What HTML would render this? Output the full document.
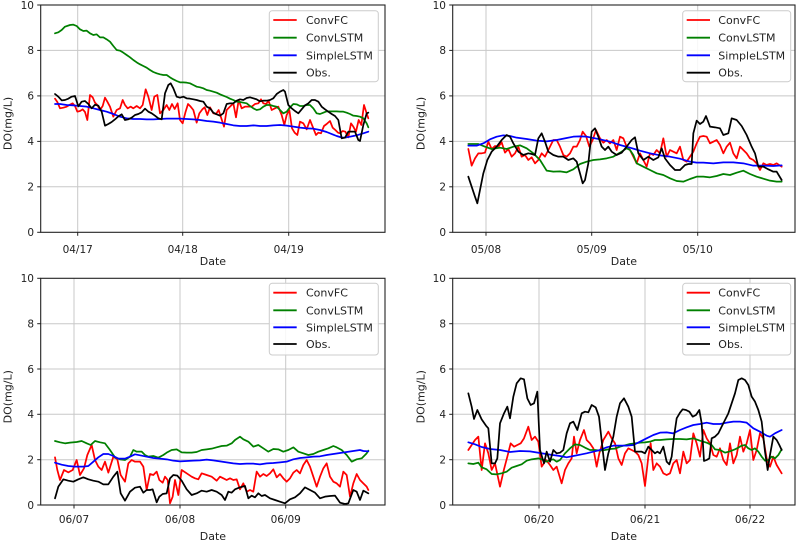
<!DOCTYPE html>
<html><head><meta charset="utf-8"><style>
html,body{margin:0;padding:0;background:#fff;}
svg{display:block;}
text{font-family:"DejaVu Sans","Liberation Sans",sans-serif;fill:#222;}
.tk{font-size:10.5px;}
.lb{font-size:11px;}
.lg{font-size:11px;}
.grid line{stroke:#c8c8c8;stroke-width:1;}
.sp{fill:none;stroke:#222;stroke-width:1.1;}
.d polyline{fill:none;stroke-width:5.2;stroke-linejoin:round;stroke-linecap:round;}
.r{stroke:#ff0000;} .g{stroke:#008000;} .b{stroke:#0000ff;} .k{stroke:#000;}
.leg rect{fill:#fff;fill-opacity:0.85;stroke:#cccccc;stroke-width:1;}
.leg line{stroke-width:1.8;}
</style></head><body>
<svg width="800" height="541" viewBox="0 0 800 541" xmlns="http://www.w3.org/2000/svg">

<!-- ============ TOP LEFT ============ -->
<g class="grid">
<line x1="40.7" x2="385" y1="186.8" y2="186.8"/><line x1="40.7" x2="385" y1="141.4" y2="141.4"/>
<line x1="40.7" x2="385" y1="95.9" y2="95.9"/><line x1="40.7" x2="385" y1="50.4" y2="50.4"/>
<line x1="77.7" x2="77.7" y1="5" y2="232.3"/><line x1="182.7" x2="182.7" y1="5" y2="232.3"/><line x1="288.7" x2="288.7" y1="5" y2="232.3"/>
</g>
<g class="d" transform="scale(0.333333)">
<polyline class="r" points="165,296 172,306 180,325 190,323 200,320 210,314 218,310 225,318 232,335 240,333 248,328 255,336 262,360 270,285 278,292 285,308 292,315 300,330 308,318 315,293 322,305 330,320 340,350 350,330 360,325 368,300 375,315 383,325 392,320 400,325 410,318 420,325 428,315 437,268 445,290 455,330 463,290 472,285 480,340 490,330 500,315 508,330 516,312 524,327 533,310 540,360 548,370 556,338 564,312 572,320 580,330 590,368 598,340 607,328 614,322 622,345 630,322 640,340 648,342 656,330 664,355 672,380 680,330 690,320 700,310 708,352 716,300 725,325 735,320 745,320 755,320 765,312 775,310 783,298 790,310 798,312 806,303 815,330 825,325 835,320 845,345 853,375 860,345 868,330 876,385 884,398 892,405 900,365 910,370 920,388 930,360 940,385 948,405 955,398 963,400 972,378 980,372 990,363 998,383 1006,390 1014,398 1020,400 1028,393 1036,395 1045,412 1053,370 1060,380 1068,395 1076,360 1084,375 1092,315 1100,340 1105,355"/>
<polyline class="g" points="165,100 175,97 185,90 195,80 210,75 220,74 230,78 240,88 250,93 260,92 270,100 280,105 290,103 300,112 310,112 320,118 330,125 340,138 350,150 360,152 370,158 380,165 390,172 400,180 410,187 420,193 430,198 440,203 450,210 460,216 470,220 480,223 490,225 500,225 510,232 520,238 530,243 540,247 550,247 560,248 570,250 580,255 590,260 600,262 610,265 620,270 630,272 640,275 650,278 660,283 670,287 680,291 690,296 700,300 710,305 720,306 730,308 740,310 750,318 760,325 770,330 780,328 790,320 800,315 810,315 820,318 830,320 840,330 850,340 860,335 870,322 880,312 890,313 900,318 910,318 920,315 930,315 940,325 950,340 960,342 970,338 980,334 990,334 1000,334 1010,334 1020,335 1030,335 1040,338 1050,342 1060,347 1070,348 1080,350 1090,355 1100,370 1105,382"/>
<polyline class="b" points="165,312 180,312 200,315 220,316 240,318 260,320 280,325 300,330 320,335 340,342 360,350 380,355 400,357 420,357 440,358 460,358 480,357 500,356 520,356 540,356 560,357 580,358 600,360 620,363 640,365 660,368 680,372 700,376 720,378 740,378 760,376 780,378 800,378 820,376 840,375 860,377 880,380 900,383 920,385 940,386 960,390 980,396 1000,404 1010,408 1020,411 1030,413 1040,412 1050,410 1060,408 1070,406 1080,403 1090,400 1105,395"/>
<polyline class="k" points="165,282 175,290 185,301 195,300 205,296 215,290 225,288 235,319 245,305 255,303 265,312 275,325 285,314 295,317 305,335 315,377 325,372 335,366 345,358 355,349 365,343 375,360 385,358 395,353 405,345 415,342 425,337 435,326 445,335 455,340 465,347 475,355 485,358 495,280 505,255 512,250 520,265 530,290 540,293 550,290 560,295 570,296 580,298 590,300 600,303 610,305 620,320 630,325 640,338 650,343 660,347 670,340 680,312 690,310 700,310 710,302 720,298 730,300 740,294 750,292 760,295 770,298 780,304 790,302 800,302 810,300 820,295 830,282 840,275 850,270 855,275 865,315 875,325 885,333 895,340 905,328 915,316 925,310 935,300 945,300 955,305 965,320 975,328 985,335 995,342 1005,348 1015,360 1025,415 1035,413 1045,395 1055,395 1065,395 1075,420 1080,423 1090,375 1100,340 1105,338"/>
</g>
<rect class="sp" x="40.7" y="5" width="344.3" height="227.3"/>
<g stroke="#222" stroke-width="1">
<line x1="37.2" x2="40.7" y1="232.3" y2="232.3"/><line x1="37.2" x2="40.7" y1="186.8" y2="186.8"/><line x1="37.2" x2="40.7" y1="141.4" y2="141.4"/><line x1="37.2" x2="40.7" y1="95.9" y2="95.9"/><line x1="37.2" x2="40.7" y1="50.4" y2="50.4"/><line x1="37.2" x2="40.7" y1="5" y2="5"/>
<line x1="77.7" x2="77.7" y1="232.3" y2="235.8"/><line x1="182.7" x2="182.7" y1="232.3" y2="235.8"/><line x1="288.7" x2="288.7" y1="232.3" y2="235.8"/>
</g>
<g class="tk" text-anchor="end">
<text x="34" y="236">0</text><text x="34" y="190.6">2</text><text x="34" y="145.2">4</text><text x="34" y="99.7">6</text><text x="34" y="54.2">8</text><text x="34" y="8.8">10</text>
</g>
<g class="tk" text-anchor="middle">
<text x="77.7" y="253">04/17</text><text x="182.7" y="253">04/18</text><text x="288.7" y="253">04/19</text>
</g>
<text class="lb" x="212.9" y="265" text-anchor="middle">Date</text>
<text class="lb" transform="translate(7.3,123.5) rotate(-90)" text-anchor="middle" dy="0.36em">DO(mg/L)</text>
<g class="leg">
<rect x="269.3" y="10.7" width="109" height="71" rx="3"/>
<line class="r" x1="273.3" x2="296.7" y1="20" y2="20"/><text class="lg" x="306" y="24">ConvFC</text>
<line class="g" x1="273.3" x2="296.7" y1="37.7" y2="37.7"/><text class="lg" x="306" y="41.7">ConvLSTM</text>
<line class="b" x1="273.3" x2="296.7" y1="55.3" y2="55.3"/><text class="lg" x="306" y="59.3">SimpleLSTM</text>
<line class="k" x1="273.3" x2="296.7" y1="72.7" y2="72.7"/><text class="lg" x="306" y="76.7">Obs.</text>
</g>

<!-- ============ TOP RIGHT ============ -->
<g class="grid">
<line x1="452.7" x2="795" y1="186.8" y2="186.8"/><line x1="452.7" x2="795" y1="141.4" y2="141.4"/>
<line x1="452.7" x2="795" y1="95.9" y2="95.9"/><line x1="452.7" x2="795" y1="50.4" y2="50.4"/>
<line x1="486" x2="486" y1="5" y2="232.3"/><line x1="591.7" x2="591.7" y1="5" y2="232.3"/><line x1="697.7" x2="697.7" y1="5" y2="232.3"/>
</g>
<g class="d" transform="translate(400,0) scale(0.333333)">
<polyline class="r" points="205,447 215,497 225,475 235,460 245,460 255,458 265,425 275,447 285,438 295,440 305,427 315,458 325,447 335,470 345,460 355,440 365,470 375,465 385,480 395,472 405,490 415,480 425,460 435,470 445,450 460,420 470,420 480,440 490,465 500,470 510,460 520,440 530,440 540,420 548,395 558,408 568,440 578,420 588,390 600,415 610,428 620,420 630,430 640,420 650,450 660,410 670,415 680,440 690,450 700,470 710,490 720,460 730,480 740,500 750,460 760,465 770,450 780,460 790,415 800,470 810,450 820,455 830,460 840,440 850,480 860,485 870,470 880,455 890,430 900,410 910,408 920,410 930,430 940,425 950,420 960,435 970,460 980,440 990,428 1000,460 1010,475 1020,440 1030,450 1040,460 1050,475 1060,480 1070,490 1080,510 1090,490 1100,495 1110,492 1120,495 1130,490 1145,500"/>
<polyline class="g" points="205,432 235,432 255,440 275,447 300,443 320,447 340,440 360,436 380,445 400,460 420,480 440,512 460,515 480,514 500,517 520,508 540,492 560,485 580,480 600,478 620,475 640,470 660,458 680,445 690,450 700,465 710,490 730,500 750,510 770,520 790,525 810,535 830,543 850,545 870,537 890,530 910,530 930,532 950,528 970,522 990,525 1010,518 1030,512 1050,522 1070,530 1090,536 1110,542 1130,545 1145,545"/>
<polyline class="b" points="205,437 230,437 250,430 270,418 290,410 310,406 330,408 350,413 380,417 410,422 440,424 470,420 500,414 520,410 540,409 560,410 580,414 600,418 630,425 660,435 690,443 720,452 750,460 780,466 810,470 840,476 870,485 890,488 910,488 940,490 970,487 1000,487 1030,490 1060,497 1090,497 1120,498 1145,496"/>
<polyline class="k" points="205,530 215,560 225,590 232,610 240,570 250,520 262,480 275,455 290,440 305,420 320,405 330,410 340,430 355,455 370,465 385,460 395,462 405,465 415,415 425,400 435,425 445,455 460,465 475,470 490,470 505,480 520,475 530,485 540,520 548,550 555,540 565,490 575,395 585,385 595,410 605,440 615,450 625,440 635,455 650,465 665,458 680,440 695,420 705,412 715,460 730,480 745,470 760,480 775,472 785,445 795,475 810,495 825,510 840,510 855,495 865,492 875,492 880,400 890,362 900,372 910,365 918,348 930,380 945,382 960,385 970,405 985,400 995,355 1010,360 1025,378 1040,405 1055,440 1065,460 1075,500 1090,500 1105,508 1120,515 1130,515 1145,540"/>
</g>
<rect class="sp" x="452.7" y="5" width="342.3" height="227.3"/>
<g stroke="#222" stroke-width="1">
<line x1="449.2" x2="452.7" y1="232.3" y2="232.3"/><line x1="449.2" x2="452.7" y1="186.8" y2="186.8"/><line x1="449.2" x2="452.7" y1="141.4" y2="141.4"/><line x1="449.2" x2="452.7" y1="95.9" y2="95.9"/><line x1="449.2" x2="452.7" y1="50.4" y2="50.4"/><line x1="449.2" x2="452.7" y1="5" y2="5"/>
<line x1="486" x2="486" y1="232.3" y2="235.8"/><line x1="591.7" x2="591.7" y1="232.3" y2="235.8"/><line x1="697.7" x2="697.7" y1="232.3" y2="235.8"/>
</g>
<g class="tk" text-anchor="end">
<text x="446" y="236">0</text><text x="446" y="190.6">2</text><text x="446" y="145.2">4</text><text x="446" y="99.7">6</text><text x="446" y="54.2">8</text><text x="446" y="8.8">10</text>
</g>
<g class="tk" text-anchor="middle">
<text x="486" y="253">05/08</text><text x="591.7" y="253">05/09</text><text x="697.7" y="253">05/10</text>
</g>
<text class="lb" x="623.9" y="265" text-anchor="middle">Date</text>
<text class="lb" transform="translate(420.7,123.5) rotate(-90)" text-anchor="middle" dy="0.36em">DO(mg/L)</text>
<g class="leg">
<rect x="682.7" y="10.7" width="108" height="71" rx="3"/>
<line class="r" x1="686.7" x2="710" y1="20" y2="20"/><text class="lg" x="718.3" y="24">ConvFC</text>
<line class="g" x1="686.7" x2="710" y1="37.7" y2="37.7"/><text class="lg" x="718.3" y="41.7">ConvLSTM</text>
<line class="b" x1="686.7" x2="710" y1="55.3" y2="55.3"/><text class="lg" x="718.3" y="59.3">SimpleLSTM</text>
<line class="k" x1="686.7" x2="710" y1="72.7" y2="72.7"/><text class="lg" x="718.3" y="76.7">Obs.</text>
</g>

<!-- ============ BOTTOM LEFT ============ -->
<g class="grid">
<line x1="40.7" x2="385" y1="459.7" y2="459.7"/><line x1="40.7" x2="385" y1="414.3" y2="414.3"/>
<line x1="40.7" x2="385" y1="369" y2="369"/><line x1="40.7" x2="385" y1="323.7" y2="323.7"/>
<line x1="74" x2="74" y1="278.3" y2="505"/><line x1="180" x2="180" y1="278.3" y2="505"/><line x1="285.7" x2="285.7" y1="278.3" y2="505"/>
</g>
<g class="d" transform="translate(0,270) scale(0.333333)">
<polyline class="r" points="165,562 172,600 180,630 192,600 205,607 218,600 230,570 240,615 252,595 262,555 275,525 285,570 295,590 305,600 315,575 325,608 340,560 352,568 362,615 375,635 385,580 395,570 405,575 420,575 430,590 440,660 450,612 460,615 470,605 478,630 488,638 495,620 503,630 510,700 518,680 525,630 535,675 545,600 560,610 575,620 585,625 595,628 605,610 620,615 635,620 650,632 660,620 670,625 680,630 690,625 700,630 710,628 720,658 730,640 740,665 750,660 760,665 770,605 780,620 790,612 800,618 810,610 820,598 830,622 840,612 850,625 860,635 870,625 880,608 890,600 900,610 910,585 920,570 930,590 940,620 950,650 960,620 970,595 980,580 990,620 1000,635 1010,640 1020,650 1030,605 1040,615 1050,680 1060,640 1070,612 1080,630 1090,640 1100,650 1105,660"/>
<polyline class="g" points="165,513 180,517 195,520 210,518 230,516 245,513 260,520 272,525 285,513 300,517 315,520 330,540 345,562 360,568 375,570 390,560 400,540 410,545 425,545 435,555 445,560 460,558 475,563 490,555 500,548 515,540 530,538 545,547 560,548 575,548 590,546 605,540 620,538 635,536 650,532 665,528 680,527 695,520 705,510 720,500 730,508 745,515 760,530 775,525 790,535 805,545 820,537 835,538 850,545 865,540 880,532 895,545 910,550 925,555 940,552 955,545 970,540 985,535 1000,528 1010,532 1025,540 1040,555 1055,575 1070,568 1085,565 1100,550 1105,542"/>
<polyline class="b" points="165,578 185,584 205,588 225,590 250,590 265,588 280,575 295,562 310,552 325,552 340,558 355,566 375,566 390,560 405,553 420,556 440,560 460,564 480,566 500,568 520,572 540,574 560,573 580,572 600,571 620,569 640,571 660,574 680,577 700,580 720,582 740,581 760,581 780,583 800,580 820,579 840,577 860,575 880,568 900,564 920,562 940,560 960,559 980,555 1000,552 1020,549 1040,546 1060,543 1080,540 1090,543 1105,544"/>
<polyline class="k" points="165,685 175,650 190,628 205,632 220,635 235,628 250,622 265,628 280,632 295,635 310,643 325,643 340,620 352,605 362,670 375,692 390,665 405,653 420,650 430,668 440,660 450,660 458,658 470,697 478,680 488,672 500,670 510,625 520,615 532,617 545,632 560,658 575,675 590,670 605,662 620,665 635,660 650,665 665,675 675,690 685,665 695,668 705,658 720,652 735,648 745,685 755,677 765,682 775,670 785,678 795,675 810,685 825,690 840,695 855,700 870,688 885,682 900,670 915,652 930,660 945,668 960,685 975,680 990,678 1005,677 1020,698 1035,702 1045,700 1060,660 1070,665 1080,690 1090,662 1105,670"/>
</g>
<rect class="sp" x="40.7" y="278.3" width="344.3" height="226.7"/>
<g stroke="#222" stroke-width="1">
<line x1="37.2" x2="40.7" y1="505" y2="505"/><line x1="37.2" x2="40.7" y1="459.7" y2="459.7"/><line x1="37.2" x2="40.7" y1="414.3" y2="414.3"/><line x1="37.2" x2="40.7" y1="369" y2="369"/><line x1="37.2" x2="40.7" y1="323.7" y2="323.7"/><line x1="37.2" x2="40.7" y1="278.3" y2="278.3"/>
<line x1="74" x2="74" y1="505" y2="508.5"/><line x1="180" x2="180" y1="505" y2="508.5"/><line x1="285.7" x2="285.7" y1="505" y2="508.5"/>
</g>
<g class="tk" text-anchor="end">
<text x="34" y="508.8">0</text><text x="34" y="463.5">2</text><text x="34" y="418.1">4</text><text x="34" y="372.8">6</text><text x="34" y="327.5">8</text><text x="34" y="282.1">10</text>
</g>
<g class="tk" text-anchor="middle">
<text x="74" y="523">06/07</text><text x="180" y="523">06/08</text><text x="285.7" y="523">06/09</text>
</g>
<text class="lb" x="212.9" y="540" text-anchor="middle">Date</text>
<text class="lb" transform="translate(7.3,396.7) rotate(-90)" text-anchor="middle" dy="0.36em">DO(mg/L)</text>
<g class="leg">
<rect x="269.3" y="283.3" width="109" height="71.7" rx="3"/>
<line class="r" x1="273.3" x2="296.7" y1="292.7" y2="292.7"/><text class="lg" x="306" y="296.7">ConvFC</text>
<line class="g" x1="273.3" x2="296.7" y1="310.3" y2="310.3"/><text class="lg" x="306" y="314.3">ConvLSTM</text>
<line class="b" x1="273.3" x2="296.7" y1="327.3" y2="327.3"/><text class="lg" x="306" y="331.3">SimpleLSTM</text>
<line class="k" x1="273.3" x2="296.7" y1="344" y2="344"/><text class="lg" x="306" y="348">Obs.</text>
</g>

<!-- ============ BOTTOM RIGHT ============ -->
<g class="grid">
<line x1="452.7" x2="795" y1="459.7" y2="459.7"/><line x1="452.7" x2="795" y1="414.3" y2="414.3"/>
<line x1="452.7" x2="795" y1="369" y2="369"/><line x1="452.7" x2="795" y1="323.7" y2="323.7"/>
<line x1="539" x2="539" y1="278.3" y2="505"/><line x1="645" x2="645" y1="278.3" y2="505"/><line x1="750" x2="750" y1="278.3" y2="505"/>
</g>
<g class="d" transform="translate(400,270) scale(0.333333)">
<polyline class="r" points="205,540 215,525 225,510 235,500 245,600 255,520 265,550 275,600 285,580 300,650 312,598 322,560 332,520 342,530 352,525 362,520 372,505 385,470 395,510 405,500 415,515 425,590 438,570 450,585 460,600 470,590 485,640 495,600 505,580 515,565 522,500 530,550 540,510 552,480 560,510 570,520 580,535 590,590 598,550 610,510 625,485 635,505 645,520 655,565 665,585 675,550 685,535 695,540 705,545 715,555 725,580 735,648 745,560 752,520 760,600 770,580 780,590 790,610 800,615 810,610 820,580 830,570 840,610 850,545 860,580 870,570 880,490 890,520 900,560 910,480 920,505 930,520 940,555 950,560 960,535 970,570 980,585 990,520 1000,580 1010,555 1020,500 1030,545 1040,520 1050,480 1060,570 1070,540 1080,490 1090,505 1100,565 1110,590 1120,560 1130,585 1145,610"/>
<polyline class="g" points="205,580 220,582 235,578 245,592 260,598 275,612 290,613 305,610 320,605 335,593 350,588 365,583 380,572 395,568 415,565 430,570 440,575 450,570 460,568 470,575 480,570 495,550 510,535 525,523 540,525 555,533 570,540 585,540 600,542 615,540 630,537 645,536 660,530 675,526 690,522 705,520 720,518 735,517 750,515 765,510 780,510 800,508 820,507 840,507 860,508 880,505 900,512 920,518 935,525 945,538 960,540 975,548 990,544 1005,538 1015,533 1025,527 1035,525 1045,535 1055,540 1065,535 1075,545 1085,560 1095,572 1105,570 1115,560 1125,565 1135,555 1145,538"/>
<polyline class="b" points="205,517 225,523 245,531 270,537 300,540 330,546 360,543 390,544 420,549 450,554 480,558 500,562 520,558 540,554 560,550 580,545 600,540 620,532 640,527 660,527 680,527 700,525 720,515 740,505 760,495 780,488 800,487 820,490 840,480 860,472 880,465 900,462 920,458 940,462 960,462 980,458 1000,455 1020,455 1040,458 1060,475 1080,485 1100,497 1110,500 1125,490 1145,480"/>
<polyline class="k" points="205,370 215,410 222,447 232,420 245,448 258,467 265,475 275,580 285,580 292,565 300,460 312,430 322,410 330,445 340,380 350,340 362,325 372,328 382,385 392,405 402,400 412,365 420,540 432,580 440,545 450,575 460,540 470,550 480,548 490,540 500,490 510,460 520,455 532,480 545,430 555,425 565,427 575,405 587,412 597,440 607,530 615,600 625,550 640,500 650,440 660,400 672,385 685,410 695,440 705,545 715,545 725,545 735,550 745,530 755,540 765,550 772,545 780,550 790,530 800,575 808,583 815,560 822,500 830,445 840,428 848,418 858,420 868,425 878,440 888,435 898,420 905,460 912,573 920,570 928,565 935,505 945,500 955,490 965,470 975,450 985,430 995,400 1005,370 1015,330 1025,325 1035,330 1045,345 1055,380 1065,395 1075,420 1085,455 1095,545 1103,600 1110,555 1120,500 1130,510 1138,525 1145,540"/>
</g>
<rect class="sp" x="452.7" y="278.3" width="342.3" height="226.7"/>
<g stroke="#222" stroke-width="1">
<line x1="449.2" x2="452.7" y1="505" y2="505"/><line x1="449.2" x2="452.7" y1="459.7" y2="459.7"/><line x1="449.2" x2="452.7" y1="414.3" y2="414.3"/><line x1="449.2" x2="452.7" y1="369" y2="369"/><line x1="449.2" x2="452.7" y1="323.7" y2="323.7"/><line x1="449.2" x2="452.7" y1="278.3" y2="278.3"/>
<line x1="539" x2="539" y1="505" y2="508.5"/><line x1="645" x2="645" y1="505" y2="508.5"/><line x1="750" x2="750" y1="505" y2="508.5"/>
</g>
<g class="tk" text-anchor="end">
<text x="446" y="508.8">0</text><text x="446" y="463.5">2</text><text x="446" y="418.1">4</text><text x="446" y="372.8">6</text><text x="446" y="327.5">8</text><text x="446" y="282.1">10</text>
</g>
<g class="tk" text-anchor="middle">
<text x="539" y="523">06/20</text><text x="645" y="523">06/21</text><text x="750" y="523">06/22</text>
</g>
<text class="lb" x="623.9" y="540" text-anchor="middle">Date</text>
<text class="lb" transform="translate(420.7,396.7) rotate(-90)" text-anchor="middle" dy="0.36em">DO(mg/L)</text>
<g class="leg">
<rect x="682.7" y="283.3" width="108" height="71.7" rx="3"/>
<line class="r" x1="686.7" x2="710" y1="292.7" y2="292.7"/><text class="lg" x="718.3" y="296.7">ConvFC</text>
<line class="g" x1="686.7" x2="710" y1="310.3" y2="310.3"/><text class="lg" x="718.3" y="314.3">ConvLSTM</text>
<line class="b" x1="686.7" x2="710" y1="327.3" y2="327.3"/><text class="lg" x="718.3" y="331.3">SimpleLSTM</text>
<line class="k" x1="686.7" x2="710" y1="344" y2="344"/><text class="lg" x="718.3" y="348">Obs.</text>
</g>

</svg>
</body></html>
